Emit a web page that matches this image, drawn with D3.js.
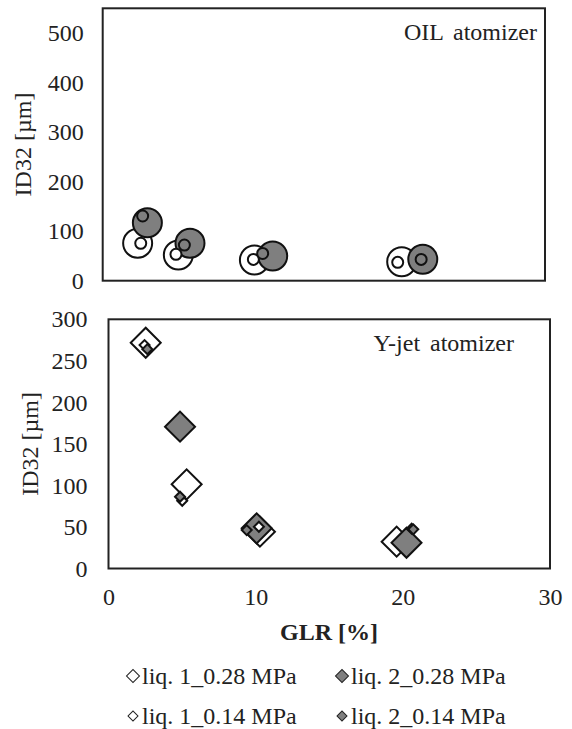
<!DOCTYPE html>
<html>
<head>
<meta charset="utf-8">
<script src="https://cdn.jsdelivr.net/npm/d3@7"></script>
<style>
  body { margin: 0; background: #fff; }
  svg text { font-family: "Liberation Serif", "Times New Roman", Times, serif; fill: #222; }
</style>
</head>
<body>
<div id="chart"></div>
<script>
// GLR [%] / ID32 [µm], one pair of arrays per series
// OIL atomizer (circles)
const oilGlr1_028 = [2.37, 5.13, 10.29, 20.28];
const oilD32_1_028 = [75.5, 51.9, 41.8, 38.4];
const oilGlr2_028 = [3.03, 5.92, 11.53, 21.71];
const oilD32_2_028 = [117, 75.5, 49.9, 43.2];
const oilGlr1_014 = [2.58, 4.97, 10.22, 20.01];
const oilD32_1_014 = [75.5, 53.3, 43, 37];
const oilGlr2_014 = [2.71, 5.54, 10.85, 21.6];
const oilD32_2_014 = [130.6, 72, 55, 43];

// Y-jet atomizer (diamonds)
const yjGlr1_028 = [2.53, 5.31, 10.29, 19.58];
const yjD32_1_028 = [271.8, 101.3, 44.3, 32.3];
const yjGlr2_028 = [4.86, 10.07, 20.25];
const yjD32_2_028 = [170.7, 48.4, 31];
const yjGlr1_014 = [2.45, 5.01, 10.22, 20.6];
const yjD32_1_014 = [269, 81.6, 50.3, 48];
const yjGlr2_014 = [2.64, 4.86, 9.39, 20.71];
const yjD32_2_014 = [264, 86.4, 46.3, 47.2];

const xTicks = [0, 10, 20, 30];
const oilYTicks = [0, 100, 200, 300, 400, 500];
const yjYTicks = [0, 50, 100, 150, 200, 250, 300];
const legendLabels = ["liq. 1_0.28 MPa", "liq. 2_0.28 MPa", "liq. 1_0.14 MPa", "liq. 2_0.14 MPa"];

const grey = "#7f7f7f";
const fs = "24px";
const zip = (xs, ys) => xs.map((x, i) => ({ x, y: ys[i] }));

const svg = d3.select("#chart").append("svg").attr("width", 572).attr("height", 729);
svg.append("rect").attr("width", 572).attr("height", 729).attr("fill", "#fff");

function panel(box, yMax, yTicks, label, labelPos, series, shape, showX) {
  const x = d3.scaleLinear().domain([0, 30]).range([box.left, box.right]);
  const y = d3.scaleLinear().domain([0, yMax]).range([box.bottom, box.top]);

  svg.append("rect").attr("x", box.left).attr("y", box.top)
    .attr("width", box.right - box.left).attr("height", box.bottom - box.top)
    .attr("fill", "none").attr("stroke", "#222").attr("stroke-width", 2);

  const yAxis = svg.append("g").attr("transform", `translate(${box.left},0)`)
    .call(d3.axisLeft(y).tickValues(yTicks).tickSize(0).tickPadding(box.pad));
  yAxis.select(".domain").remove();
  yAxis.selectAll("text").style("font-size", fs).attr("fill", "#222");

  if (showX) {
    const xAxis = svg.append("g").attr("transform", `translate(0,${box.bottom})`)
      .call(d3.axisBottom(x).tickValues(xTicks).tickSize(0).tickPadding(19));
    xAxis.select(".domain").remove();
    xAxis.selectAll("text").style("font-size", fs).attr("fill", "#222");
  }

  svg.append("text").attr("transform", `translate(${box.titleX},${(box.top + box.bottom) / 2}) rotate(-90)`)
    .attr("text-anchor", "middle").attr("dominant-baseline", "central")
    .style("font-size", fs).text("ID32 [µm]");

  svg.append("text").attr("x", labelPos[0]).attr("y", labelPos[1]).attr("text-anchor", "end")
    .attr("dominant-baseline", "central").style("font-size", fs).style("word-spacing", "4px").text(label);

  series.forEach(s => {
    const sym = shape === "circle"
      ? d3.symbol().type(d3.symbolCircle).size(Math.PI * s.r * s.r)
      : d3.symbol().type(d3.symbolSquare).size(2 * s.r * s.r);
    svg.append("g").selectAll("path").data(s.pts).join("path")
      .attr("d", sym)
      .attr("transform", d => `translate(${x(d.x)},${y(d.y)})` + (shape === "circle" ? "" : " rotate(45)"))
      .attr("fill", s.fill).attr("stroke", "#111").attr("stroke-width", 2);
  });
  return x;
}

panel({ left: 102.7, right: 545, top: 8.3, bottom: 280.7, pad: 19, titleX: 23 }, 550, oilYTicks,
  "OIL atomizer", [537, 32], [
    { pts: zip(oilGlr1_028, oilD32_1_028), fill: "#fff", r: 14.5 },
    { pts: zip(oilGlr2_028, oilD32_2_028), fill: grey, r: 14.5 },
    { pts: zip(oilGlr1_014, oilD32_1_014), fill: "#fff", r: 5.5 },
    { pts: zip(oilGlr2_014, oilD32_2_014), fill: grey, r: 5.5 }
  ], "circle", false);

panel({ left: 108.5, right: 550, top: 319.3, bottom: 568.5, pad: 21, titleX: 30 }, 300, yjYTicks,
  "Y-jet atomizer", [514, 343], [
    { pts: zip(yjGlr1_028, yjD32_1_028), fill: "#fff", r: 15 },
    { pts: zip(yjGlr2_028, yjD32_2_028), fill: grey, r: 15 },
    { pts: zip(yjGlr1_014, yjD32_1_014), fill: "#fff", r: 5 },
    { pts: zip(yjGlr2_014, yjD32_2_014), fill: grey, r: 5 }
  ], "diamond", true);

svg.append("text").attr("x", 329).attr("y", 632).attr("text-anchor", "middle")
  .attr("dominant-baseline", "central").style("font-size", fs).style("font-weight", "bold")
  .text("GLR [%]");

// legend, two rows x two columns
const legendItems = legendLabels.map((t, i) => ({
  text: t, col: i % 2, row: Math.floor(i / 2),
  fill: i % 2 === 0 ? "#fff" : grey, r: i < 2 ? 6.5 : 5
}));
const lg = svg.append("g").selectAll("g").data(legendItems).join("g")
  .attr("transform", d => `translate(${d.col ? 342 : 133},${d.row ? 716 : 676})`);
lg.append("path").attr("d", d => d3.symbol().type(d3.symbolSquare).size(2 * d.r * d.r)())
  .attr("transform", "rotate(45)").attr("fill", d => d.fill).attr("stroke", "#222").attr("stroke-width", 1);
lg.append("text").attr("x", 9).attr("dominant-baseline", "central").style("font-size", fs).text(d => d.text);
</script>
</body>
</html>
